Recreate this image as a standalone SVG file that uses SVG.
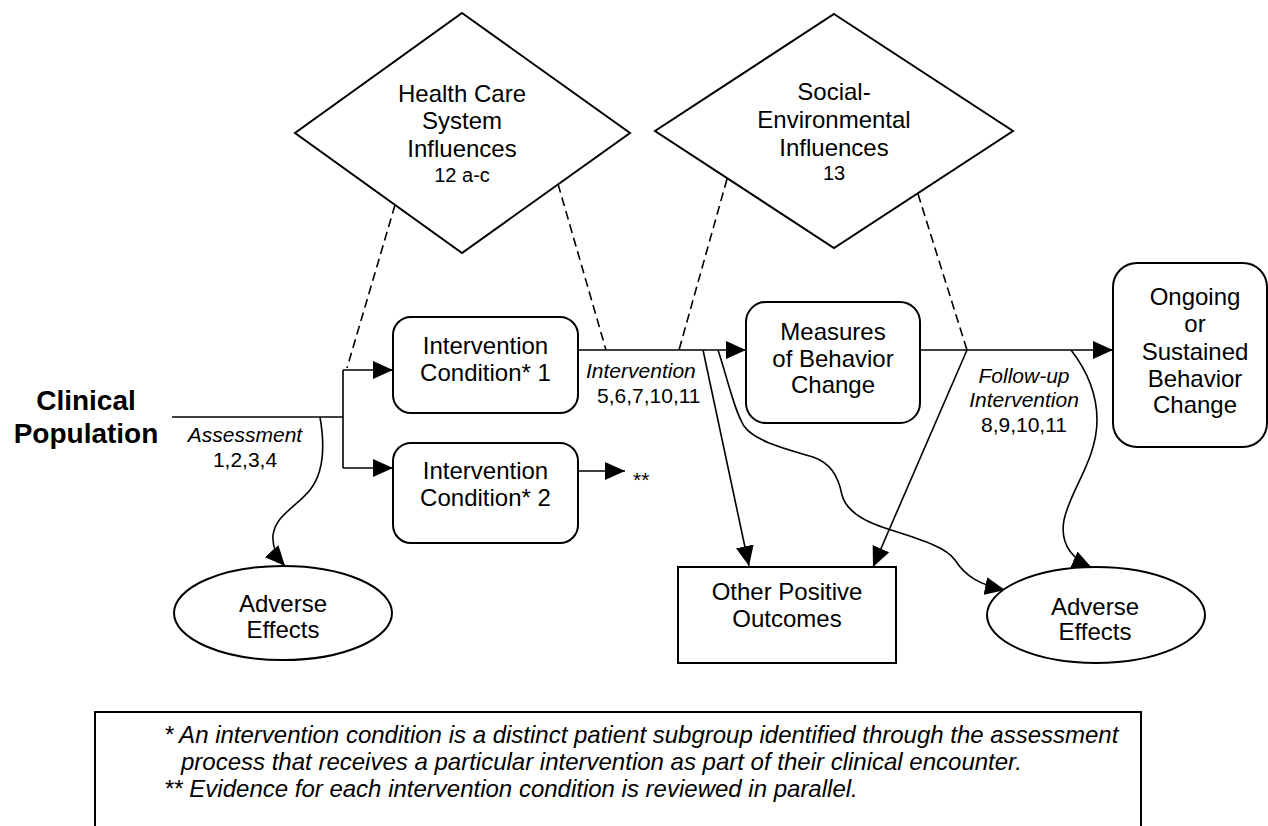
<svg xmlns="http://www.w3.org/2000/svg" width="1268" height="826" viewBox="0 0 1268 826">
<style>
text { font-family: "Liberation Sans", Arial, sans-serif; fill: #000; }
.n { font-size: 24px; text-anchor: middle; }
.num { font-size: 20px; text-anchor: middle; }
.lbl { font-size: 21px; font-style: italic; text-anchor: middle; }
.lblr { font-size: 21px; text-anchor: middle; }
.big { font-size: 28px; font-weight: bold; text-anchor: middle; }
.shape { fill: #fff; stroke: #000; stroke-width: 2; }
.ln { fill: none; stroke: #000; stroke-width: 1.6; }
.arr { fill: none; stroke: #000; stroke-width: 1.6; marker-end: url(#ah); }
.dash { fill: none; stroke: #000; stroke-width: 1.6; stroke-dasharray: 9 5; }
.leg { font-size: 24px; font-style: italic; }
</style>
<defs>
<marker id="ah" viewBox="0 0 20 18" refX="20" refY="9" markerWidth="20" markerHeight="18" markerUnits="userSpaceOnUse" orient="auto">
<path d="M0,0 L20,9 L0,18 z" fill="#000"/>
</marker>
</defs>
<rect x="0" y="0" width="1268" height="826" fill="#fff"/>

<g id="connectors">
<path class="dash" d="M395,205 L347,368"/>
<path class="dash" d="M558,184 L606,350"/>
<path class="dash" d="M727,179 L679,350"/>
<path class="dash" d="M918,194 L967,350"/>
<path class="ln" d="M172,417 L343,417"/>
<path class="ln" d="M343,370 L343,468"/>
<path class="arr" d="M343,370 L393,370"/>
<path class="arr" d="M343,468 L393,468"/>
<path class="arr" d="M578,471 L625,471"/>
<path class="arr" d="M578,350 L746,350"/>
<path class="arr" d="M920,350 L1113,350"/>
<path class="arr" d="M320,417 C324,440 326,470 310,490 C295,508 276,515 273,535 C272,547 276,556 285,566"/>
<path class="arr" d="M703,350 L749,566"/>
<path class="arr" d="M967,350 L873,567"/>
<path class="arr" d="M718,350 C728,380 734,410 744,426 C755,442 790,450 813,457 C830,463 838,475 842,495 C846,510 860,520 885,528 C915,538 945,546 955,560 C965,576 980,585 1005,590"/>
<path class="arr" d="M1071,350 C1085,368 1097,392 1097,420 C1097,460 1070,490 1064,520 C1060,542 1070,558 1092,568"/>
</g>

<g id="clinical-population">
<text class="big" x="86" y="410">Clinical</text>
<text class="big" x="86" y="443">Population</text>
</g>

<g id="label-assessment">
<text class="lbl" x="245" y="442">Assessment</text>
<text class="lblr" x="245" y="467">1,2,3,4</text>
</g>

<g id="label-intervention">
<text class="lbl" x="586" y="378" style="text-anchor:start">Intervention</text>
<text class="lblr" x="597" y="403" style="text-anchor:start">5,6,7,10,11</text>
</g>

<g id="label-followup">
<text class="lbl" x="1024" y="383">Follow-up</text>
<text class="lbl" x="1024" y="407">Intervention</text>
<text class="lblr" x="1024" y="432">8,9,10,11</text>
</g>

<g id="health-care">
<polygon class="shape" points="462,13 630,133 462,253 295,133"/>
<text class="n" x="462" y="102">Health Care</text>
<text class="n" x="462" y="129">System</text>
<text class="n" x="462" y="157">Influences</text>
<text class="num" x="462" y="182">12 a-c</text>
</g>

<g id="social-env">
<polygon class="shape" points="834,14 1013,131 834,248 655,131"/>
<text class="n" x="834" y="100">Social-</text>
<text class="n" x="834" y="128">Environmental</text>
<text class="n" x="834" y="156">Influences</text>
<text class="num" x="834" y="180">13</text>
</g>

<g id="intervention-1">
<rect class="shape" x="393" y="317" width="185" height="96" rx="18"/>
<text class="n" x="485.5" y="354">Intervention</text>
<text class="n" x="485.5" y="381">Condition* 1</text>
</g>

<g id="intervention-2">
<rect class="shape" x="393" y="443" width="185" height="100" rx="18"/>
<text class="n" x="485.5" y="479">Intervention</text>
<text class="n" x="485.5" y="506">Condition* 2</text>
</g>

<g id="parallel-mark">
<text x="633" y="487" style="font-size:21px">**</text>
</g>

<g id="measures">
<rect class="shape" x="746" y="302" width="174" height="121" rx="20"/>
<text class="n" x="833" y="340">Measures</text>
<text class="n" x="833" y="367">of Behavior</text>
<text class="n" x="833" y="393">Change</text>
</g>

<g id="ongoing">
<rect class="shape" x="1113" y="263" width="154" height="184" rx="24"/>
<text class="n" x="1195" y="305">Ongoing</text>
<text class="n" x="1195" y="332">or</text>
<text class="n" x="1195" y="360">Sustained</text>
<text class="n" x="1195" y="387">Behavior</text>
<text class="n" x="1195" y="413">Change</text>
</g>

<g id="adverse-1">
<ellipse class="shape" cx="283" cy="613" rx="109" ry="47"/>
<text class="n" x="283" y="612">Adverse</text>
<text class="n" x="283" y="638">Effects</text>
</g>

<g id="other-positive">
<rect class="shape" x="678" y="567" width="218" height="96"/>
<text class="n" x="787" y="600">Other Positive</text>
<text class="n" x="787" y="627">Outcomes</text>
</g>

<g id="adverse-2">
<ellipse class="shape" cx="1096" cy="615" rx="109" ry="48"/>
<text class="n" x="1095" y="615">Adverse</text>
<text class="n" x="1095" y="640">Effects</text>
</g>

<g id="legend">
<path class="shape" style="fill:none" d="M95,830 L95,712 L1141,712 L1141,830"/>
<text class="leg" x="164" y="743">* An intervention condition is a distinct patient subgroup identified through the assessment</text>
<text class="leg" x="181" y="770">process that receives a particular intervention as part of their clinical encounter.</text>
<text class="leg" x="164" y="797">** Evidence for each intervention condition is reviewed in parallel.</text>
</g>
</svg>
